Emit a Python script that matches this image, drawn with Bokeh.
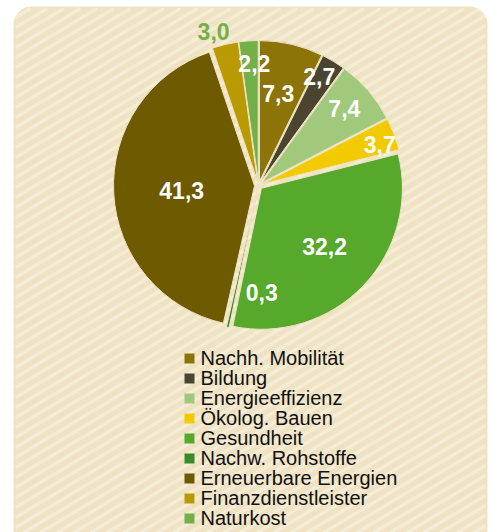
import math
from bokeh.plotting import figure
from bokeh.models import Range1d, BoxAnnotation, ColumnDataSource
from bokeh.embed import file_html
from bokeh.resources import INLINE
from bokeh.core.properties import value

# ---------------- data ----------------
categories = ["Nachh. Mobilität", "Bildung", "Energieeffizienz", "Ökolog. Bauen",
              "Gesundheit", "Nachw. Rohstoffe", "Erneuerbare Energien",
              "Finanzdienstleister", "Naturkost"]
shares = [7.3, 2.7, 7.4, 3.7, 32.2, 0.3, 41.3, 3.0, 2.2]
value_labels = ["7,3", "2,7", "7,4", "3,7", "32,2", "0,3", "41,3", "3,0", "2,2"]

# ---------------- style / layout ----------------
colors = ["#8C7408", "#4A4430", "#A1C97B", "#F2CA00", "#56A92A",
          "#3B8A27", "#6E5A00", "#B99A02", "#74B049"]
W, H = 491, 532
CX, CY = 258, H - 185          # pie centre (data units == pixels)
R = 141                         # pie radius
EXPLODE = 4                     # every slice pulled out a little
BG = "#EFE3C3"
PANEL_L, PANEL_R, PANEL_T = 13, 487, 6
# label placement: radius from centre and angular tweak (degrees), per slice
label_r = [94, 125, 115, 128, 90, 107, 77, 160, 122]
label_da = [-1, -2, -1, 2, -1, -14, -1, -3, 2]
label_colors = ["white"] * 9
label_colors[7] = "#74B049"
# legend layout (pixels from top)
LEG_X, LEG_ROW0, LEG_STEP = 184, 357, 20

total = sum(shares)
a0s, a1s, mids = [], [], []
acc = 0.0
for s in shares:
    a0 = acc / total * 2 * math.pi
    acc += s
    a1 = acc / total * 2 * math.pi
    a0s.append(a0); a1s.append(a1); mids.append((a0 + a1) / 2)

src = ColumnDataSource(dict(
    x=[CX + EXPLODE * math.sin(m) for m in mids],
    y=[CY + EXPLODE * math.cos(m) for m in mids],
    start=[math.pi / 2 - a1 for a1 in a1s],
    end=[math.pi / 2 - a0 for a0 in a0s],
    color=colors,
    cat=categories,
))

lab_ang = [m + math.radians(d) for m, d in zip(mids, label_da)]
lab_src = ColumnDataSource(dict(
    x=[CX + r * math.sin(a) for r, a in zip(label_r, lab_ang)],
    y=[CY + r * math.cos(a) for r, a in zip(label_r, lab_ang)],
    text=value_labels,
    color=label_colors,
))

n = len(categories)
leg_src = ColumnDataSource(dict(
    sx=[LEG_X + 5] * n,
    sy=[H - (LEG_ROW0 + 1 + LEG_STEP * i) for i in range(n)],
    tx=[LEG_X + 16] * n,
    ty=[H - (LEG_ROW0 + LEG_STEP * i) for i in range(n)],
    label=categories,
    color=colors,
))

# decorative background stripes (pixel coords, y down: y = c - k*x)
k = 0.6
xs0, ys0, xs1, ys1 = [], [], [], []
c = PANEL_T
while c < H + k * PANEL_R + 20:
    xa = max(PANEL_L + 2, (c - H) / k)
    xb = min(PANEL_R - 2, (c - PANEL_T - 2) / k)
    if xb > xa:
        xs0.append(xa); ys0.append(H - (c - k * xa))
        xs1.append(xb); ys1.append(H - (c - k * xb))
    c += 10

p = figure(width=W, height=H, output_backend="svg", toolbar_location=None,
           x_range=Range1d(0, W), y_range=Range1d(0, H), min_border=0)
p.axis.visible = False
p.grid.visible = False
p.outline_line_color = None
p.background_fill_color = "white"
p.border_fill_color = "white"

panel = BoxAnnotation(left=PANEL_L, right=PANEL_R, top=H - PANEL_T, bottom=-30,
                      border_radius=18, fill_color=BG, fill_alpha=1.0, line_alpha=0,
                      level="underlay")
p.add_layout(panel)

p.segment(x0=xs0, y0=ys0, x1=xs1, y1=ys1, line_color="#FAF4E3", line_alpha=0.55,
          line_width=3.5)

wedges = p.wedge(x="x", y="y", radius=R, start_angle="start", end_angle="end",
                 fill_color="color", line_color=BG, line_width=1, source=src)

p.text(x="x", y="y", text="text", source=lab_src, text_color="color",
       text_font=value("Liberation Sans"), text_font_style="bold",
       text_font_size=value("23px"), text_align="center", text_baseline="middle")

# legend
p.scatter(x="sx", y="sy", marker="square", size=10, fill_color="color",
          line_color=None, source=leg_src)
p.text(x="tx", y="ty", text="label", source=leg_src, text_color="#111111",
       text_font=value("Liberation Sans"), text_font_size=value("20px"),
       text_align="left", text_baseline="middle")

open("out.html", "w").write(file_html(p, INLINE))
